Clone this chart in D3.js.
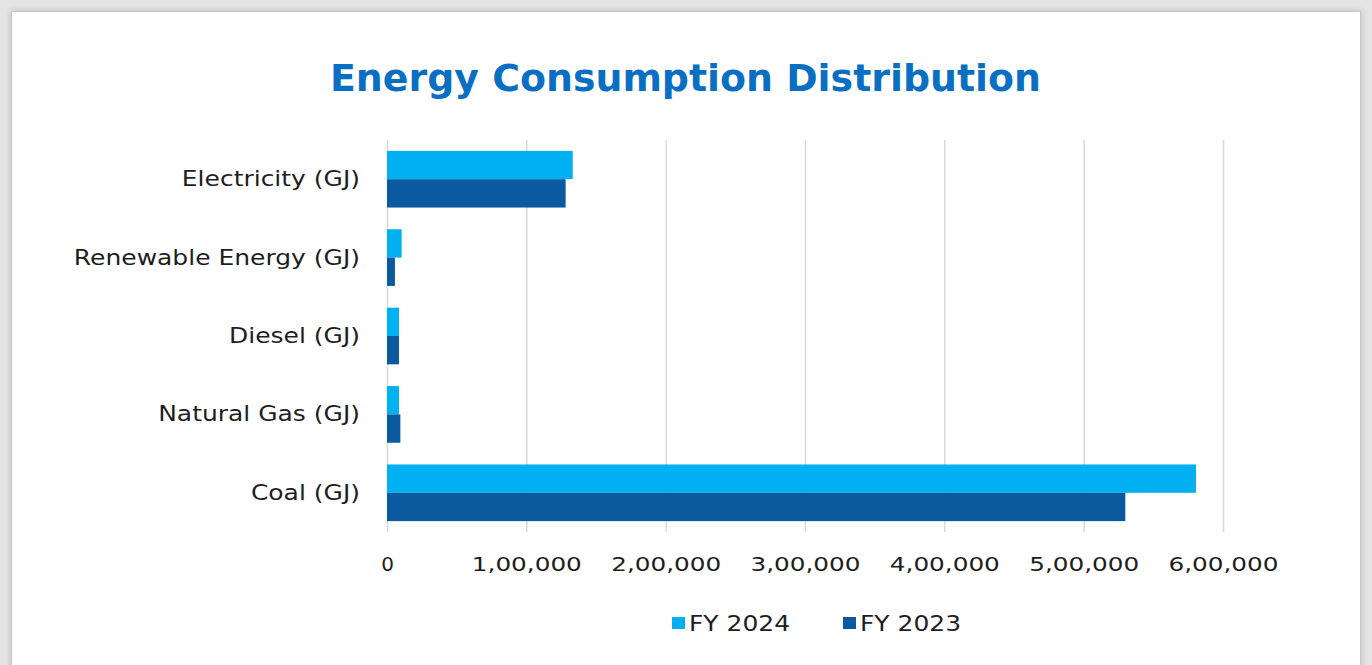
<!DOCTYPE html>
<html><head><meta charset="utf-8">
<script src="https://cdn.jsdelivr.net/npm/d3@7"></script>
<style>
html,body{margin:0;padding:0;background:#e4e4e4;}
body{width:1372px;height:665px;overflow:hidden;position:relative;}
#panel{position:absolute;left:11px;top:11px;width:1350px;height:700px;background:#fff;border:1px solid #c8c8c8;box-shadow:0 0 6px rgba(0,0,0,0.18);box-sizing:border-box;}
svg{position:absolute;left:0;top:0;}
</style></head>
<body><div id="panel"></div><svg id="chart" width="1372" height="665"></svg>
<script>
const categories = ["Electricity (GJ)", "Renewable Energy (GJ)", "Diesel (GJ)", "Natural Gas (GJ)", "Coal (GJ)"];
const seriesNames = ["FY 2024", "FY 2023"];
const fy2024 = [133300, 10500, 8600, 8600, 580600];
const fy2023 = [128200, 5700, 8600, 9600, 529900];
const tickValues = [0, 100000, 200000, 300000, 400000, 500000, 600000];
const tickLabels = ["0", "1,00,000", "2,00,000", "3,00,000", "4,00,000", "5,00,000", "6,00,000"];
const colors = ["#00b0f0", "#0b5aa0"];
const title = "Energy Consumption Distribution";

(function(){
const svg = d3.select("#chart");
const font = "'DejaVu Sans', sans-serif";
const pL = 387, pR = 1223, pT = 140, pB = 532;

const x = d3.scaleLinear().domain([0, 600000]).range([pL, pR]);
const y = d3.scaleBand().domain(categories).range([pT, pB]).paddingInner(0.277).paddingOuter(0.1385);
const ys = d3.scaleBand().domain(seriesNames).range([0, y.bandwidth()]);

// title
svg.append("text").attr("x", 685.5).attr("y", 91).attr("text-anchor", "middle")
  .attr("font-family", font).attr("font-weight", "bold").attr("font-size", 38)
  .attr("fill", "#0a6fc2").attr("textLength", 711).attr("lengthAdjust", "spacingAndGlyphs")
  .text(title);

// gridlines + x labels
const xAxis = d3.axisBottom(x).tickValues(tickValues).tickSize(-(pB - pT))
  .tickFormat((d, i) => tickLabels[i]).tickPadding(20);
const gx = svg.append("g").attr("transform", `translate(0,${pB})`).call(xAxis);
gx.select(".domain").remove();
gx.selectAll(".tick line").attr("stroke", "#d9d9d9").attr("stroke-width", 1.5);
gx.selectAll(".tick text").attr("font-family", font).attr("font-size", 20).attr("fill", "#1e1e1e")
  .attr("dy", "0.32em").attr("y", 33)
  .each(function(d, i){ if (i > 0) d3.select(this).attr("textLength", 110).attr("lengthAdjust", "spacingAndGlyphs"); });

// y labels
const yAxis = d3.axisLeft(y).tickSize(0).tickPadding(27);
const gy = svg.append("g").attr("transform", `translate(${pL},0)`).call(yAxis);
gy.select(".domain").remove();
gy.selectAll(".tick text").attr("font-family", font).attr("font-size", 22).attr("fill", "#1e1e1e")
  .each(function(){ const w = this.getComputedTextLength(); d3.select(this).attr("textLength", w * 1.135).attr("lengthAdjust", "spacingAndGlyphs"); });

// bars
const data = categories.map((c, i) => ({cat: c, vals: [fy2024[i], fy2023[i]]}));
const g = svg.append("g");
data.forEach(d => {
  d.vals.forEach((v, j) => {
    g.append("rect").attr("x", x(0)).attr("y", y(d.cat) + ys(seriesNames[j]))
      .attr("width", x(v) - x(0)).attr("height", ys.bandwidth()).attr("fill", colors[j]);
  });
});

// legend
const legendX = [672, 843];
seriesNames.forEach((s, j) => {
  svg.append("rect").attr("x", legendX[j]).attr("y", 617).attr("width", 13).attr("height", 12).attr("fill", colors[j]);
  svg.append("text").attr("x", legendX[j] + 17).attr("y", 623).attr("dy", "0.35em")
    .attr("font-family", font).attr("font-size", 22).attr("fill", "#1e1e1e")
    .attr("textLength", 101).attr("lengthAdjust", "spacingAndGlyphs").text(s);
});
})();
</script></body></html>
